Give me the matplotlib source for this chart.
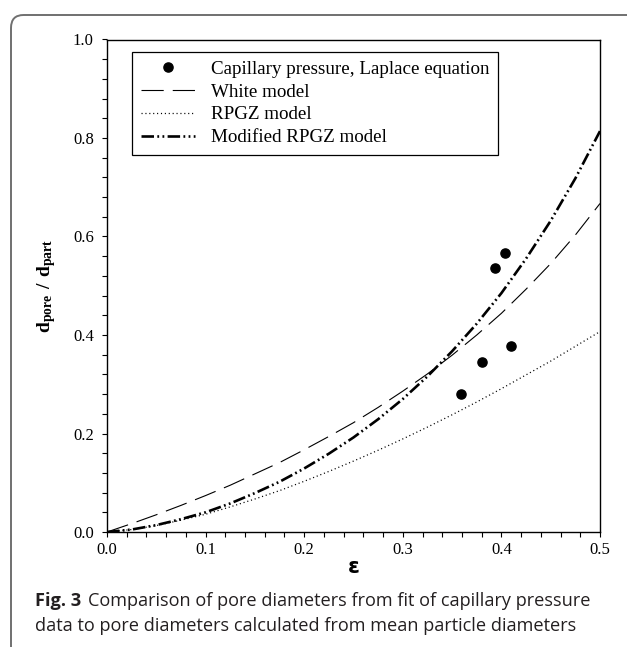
import matplotlib
matplotlib.use("Agg")
import matplotlib.pyplot as plt
from matplotlib.patches import FancyBboxPatch
from matplotlib.ticker import MultipleLocator, FormatStrFormatter

# ---------------------------------------------------------------------------
# Data
# ---------------------------------------------------------------------------
eps = [0.0, 0.025, 0.05, 0.075, 0.1, 0.125, 0.15, 0.175, 0.2, 0.225, 0.25,
       0.275, 0.3, 0.325, 0.35, 0.375, 0.4, 0.425, 0.45, 0.475, 0.5]

white = [0.0, 0.017, 0.035, 0.054, 0.074, 0.095, 0.118, 0.141, 0.167, 0.194,
         0.222, 0.253, 0.286, 0.321, 0.359, 0.400, 0.444, 0.493, 0.545,
         0.603, 0.667]

rpgz = [0.0, 0.005, 0.013, 0.024, 0.036, 0.051, 0.067, 0.084, 0.103, 0.123,
        0.144, 0.166, 0.189, 0.213, 0.238, 0.264, 0.291, 0.319, 0.347,
        0.377, 0.407]

rpgz_mod = [0.0, 0.005, 0.014, 0.026, 0.040, 0.058, 0.079, 0.102, 0.129,
            0.159, 0.192, 0.229, 0.270, 0.316, 0.367, 0.423, 0.485, 0.555,
            0.632, 0.718, 0.814]

# capillary pressure / Laplace equation points
cap_eps = [0.359, 0.380, 0.394, 0.404, 0.410]
cap_d = [0.280, 0.345, 0.536, 0.566, 0.378]

caption_bold = "Fig. 3"
caption_1 = "Comparison of pore diameters from fit of capillary pressure"
caption_2 = "data to pore diameters calculated from mean particle diameters"

# ---------------------------------------------------------------------------
# Style
# ---------------------------------------------------------------------------
plt.rcParams["font.family"] = ["Liberation Serif", "DejaVu Serif"]
plt.rcParams["mathtext.fontset"] = "custom"
plt.rcParams["mathtext.rm"] = "Liberation Serif"
plt.rcParams["mathtext.bf"] = "Liberation Serif:bold"
plt.rcParams["lines.scale_dashes"] = False

W, H = 627, 647
fig = plt.figure(figsize=(W / 100, H / 100), dpi=100)

# rounded frame around the whole panel (runs off right/bottom edges)
frame = FancyBboxPatch((11 / W, -20 / H), 640 / W, (H - 15 + 20) / H,
                       boxstyle="round,pad=0,rounding_size=0.02",
                       transform=fig.transFigure, fill=False,
                       edgecolor="#707070", linewidth=1.4, clip_on=False)
fig.patches.append(frame)

ax = fig.add_axes([107 / W, 1 - 532 / H, 493 / W, 492.5 / H])

ax.plot(eps, white, color="black", lw=0.8, ls=(0, (16, 6.5)),
        label="White model")
ax.plot(eps, rpgz, color="black", lw=0.9, ls=(0, (0.8, 2.0)),
        label="RPGZ model")
ax.plot(eps, rpgz_mod, color="black", lw=1.9,
        ls=(0, (9, 2.4, 1.3, 2.4, 1.3, 2.4)), dash_capstyle="butt",
        label="Modified RPGZ model")
ax.plot(cap_eps, cap_d, "o", color="black", ms=6.6, zorder=5,
        label="Capillary pressure, Laplace equation")

ax.set_xlim(0, 0.5)
ax.set_ylim(0, 1.0)
ax.xaxis.set_major_locator(MultipleLocator(0.1))
ax.xaxis.set_minor_locator(MultipleLocator(0.02))
ax.yaxis.set_major_locator(MultipleLocator(0.2))
ax.yaxis.set_minor_locator(MultipleLocator(0.04))
ax.xaxis.set_major_formatter(FormatStrFormatter("%.1f"))
ax.yaxis.set_major_formatter(FormatStrFormatter("%.1f"))
ax.tick_params(which="both", direction="out", length=3.5, width=0.8,
               top=False, right=False)
ax.tick_params(axis="x", which="major", labelsize=12, pad=4)
ax.tick_params(axis="y", which="major", labelsize=12, pad=6)
for sp in ax.spines.values():
    sp.set_linewidth(1.0)

ax.set_xlabel("ε", family="DejaVu Sans", fontweight="bold", fontsize=15.5)
ax.xaxis.label.set_va("center")
ax.xaxis.set_label_coords(0.5, -0.071)
ax.set_ylabel(r"$\mathbf{d_{pore}\ /\ d_{part}}$", fontsize=14)
ax.yaxis.label.set_va("center")
ax.yaxis.set_label_coords(-0.122, 0.5)

# legend: points first, then the three models
h, l = ax.get_legend_handles_labels()
order = [3, 0, 1, 2]
leg = ax.legend([h[i] for i in order], [l[i] for i in order],
                loc="upper left", bbox_to_anchor=(0.0507, 0.975),
                borderaxespad=0, fontsize=13.7, frameon=True, fancybox=False,
                edgecolor="black", framealpha=1, numpoints=1,
                handlelength=2.85, handletextpad=0.84, labelspacing=0.29,
                borderpad=0.45)
leg.get_frame().set_linewidth(0.9)

# caption
cap_kw = dict(family="Open Sans", fontsize=13.1, color="#231f20")
t_bold = fig.text(35 / W, 1 - 601 / H, caption_bold, fontweight="bold",
                  va="center", **cap_kw)
ax.annotate(caption_1, xy=(1, 0), xycoords=t_bold, xytext=(5, 0),
            textcoords="offset points", va="bottom", ha="left",
            annotation_clip=False, **cap_kw)
fig.text(35 / W, 1 - 626 / H, caption_2, va="center", **cap_kw)

fig.savefig("out.png", dpi=100)
